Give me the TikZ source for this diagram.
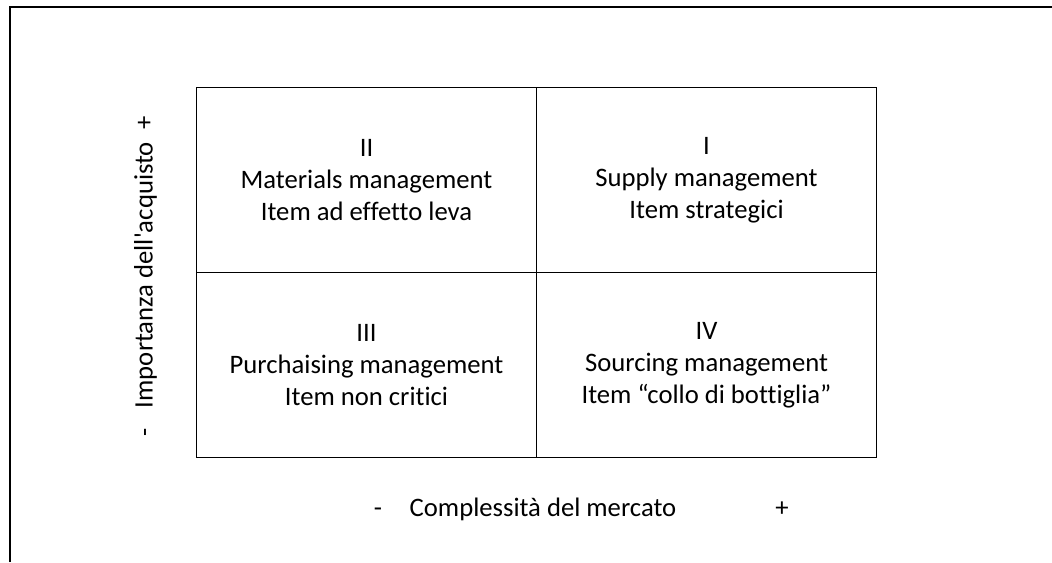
\documentclass[tikz,border=0pt]{standalone}
\usepackage{fontspec}
\setmainfont[Ligatures={TeX,NoCommon}]{Carlito}
\usetikzlibrary{positioning}

\begin{document}
\begin{tikzpicture}[x=0.75pt,y=-0.75pt,font=\fontsize{20}{24}\selectfont,
  quadrant/.style={draw,line width=0.75pt,minimum width=255pt,minimum height=138.75pt,
    align=center,inner sep=0pt,outer sep=0pt},
  axislabel/.style={inner sep=1pt,text height=14pt,text depth=4pt}]
  \useasboundingbox (0,0) rectangle (1052,562);
  % outer frame (only top and left edges show)
  \draw[line width=1.5pt] (10,562) -- (10,7) -- (1052,7);
  % the four quadrants
  \node[quadrant] (q2) at (366.5,180) {II\\Materials management\\Item ad effetto leva};
  \node[quadrant, right=0pt of q2] (q1) {I\\Supply management\\Item strategici};
  \node[quadrant, below=0pt of q2] (q3) {III\\Purchaising management\\Item non critici};
  \node[quadrant, right=0pt of q3] (q4) {IV\\Sourcing management\\Item “collo di bottiglia”};
  % vertical axis
  \node[axislabel, rotate=90] (yaxis) at (146,275) {Importanza dell\textquotesingle acquisto};
  \node[axislabel, rotate=90] (yplus) at (146,123) {+};
  \node[axislabel, rotate=90] (yminus) at (146,432) {-};
  % horizontal axis
  \node[axislabel] (xaxis) at (543,510) {Complessità del mercato};
  \node[axislabel] (xminus) at (378,510) {-};
  \node[axislabel] (xplus) at (782,510) {+};
\end{tikzpicture}
\end{document}
